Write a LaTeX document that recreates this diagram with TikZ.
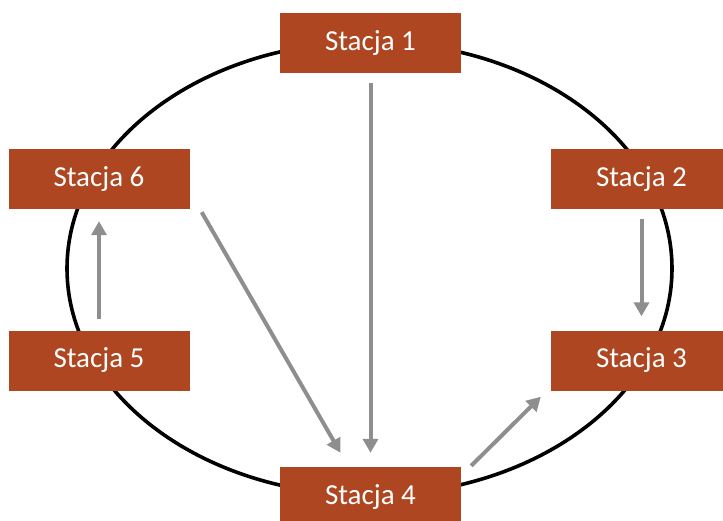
\documentclass[tikz,border=0pt]{standalone}
\usepackage{fontspec}
\setmainfont{Carlito}
\usepackage{tikz}
\usetikzlibrary{positioning,calc,arrows.meta}
\definecolor{stacjared}{HTML}{AD4621}
\definecolor{arrowgray}{HTML}{8E8E8E}

\begin{document}
\begin{tikzpicture}[
				x=1pt, y=-1pt,
				box/.style={rectangle, fill=stacjared, text=white, minimum width=181pt, minimum height=60pt, font=\fontsize{29}{34}\selectfont},
				arr/.style={-{Triangle[length=14pt,width=15pt]}, line width=4pt, draw=arrowgray}
				]
				\useasboundingbox (0,0) rectangle (723,520);
				\draw[line width=3.6pt] (369.5,268.5) ellipse [x radius=302.5, y radius=226.7];
				
				\node[box] (s1) at (370.5,43) {Stacja 1};
				\node[box] (s2) at (641.5,179) {Stacja 2};
				\node[box] (s3) at (641.5,360.5) {Stacja 3};
				\node[box] (s4) at (370.5,497) {Stacja 4};
				\node[box] (s5) at (99,360.5) {Stacja 5};
				\node[box] (s6) at (99,179) {Stacja 6};
				
				\draw[arr] ($(s1.south)+(0,10)$) -- ($(s4.north)+(0,-14)$);
				\draw[arr] ($(s2.south)+(0,10)$) -- ($(s3.north)+(0,-14)$);
				\draw[arr] ($(s5.north)+(0,-11)$) -- ($(s6.south)+(0,12)$);
				\draw[arr] ($(s6.south east)+(12,3)$) -- ($(s4.north)+(-30,-14)$);
				\draw[arr] ($(s4.north east)+(10,-1)$) -- ($(s3.south west)+(-10,6)$);
			\end{tikzpicture}
\end{document}
